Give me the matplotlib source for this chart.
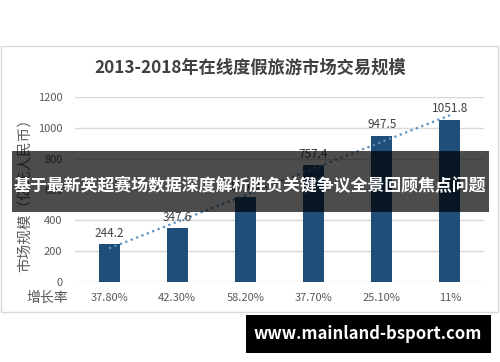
import matplotlib
matplotlib.use('Agg')
import matplotlib.pyplot as plt
import numpy as np
from matplotlib.patches import Rectangle

plt.rcParams['font.family'] = ['Noto Sans CJK SC', 'DejaVu Sans']

years = ['2013', '2014', '2015', '2016', '2017', '2018']
market_size = [244.2, 347.6, 550.0, 757.4, 947.5, 1051.8]
growth = ['37.80%', '42.30%', '58.20%', '37.70%', '25.10%', '11%']
yticks = [0, 200, 400, 600, 800, 1000, 1200]

W, H = 500, 362
fig = plt.figure(figsize=(5, 3.62), dpi=100)
fig.patch.set_facecolor('white')

# outer chart frame
fig.patches.append(Rectangle((1 / W, 1 - 312 / H), 497 / W, 266 / H,
                             transform=fig.transFigure, facecolor='white',
                             edgecolor='#d9d9d9', linewidth=1, zorder=-5))

ax = fig.add_axes([75 / W, 1 - 282 / H, 409 / W, 185 / H])
ax.set_facecolor('none')
x = np.arange(len(years))
ax.bar(x, market_size, width=0.31, color='#1f4e79', zorder=3)

# linear trend line
k, b = np.polyfit(x, market_size, 1)
ax.plot(x, k * x + b, linestyle=(0, (1, 1.6)), color='#5b8fc0', lw=1.6, zorder=4)

for xi, v in zip(x, market_size):
    ax.text(xi, v + 30, f'{v:.1f}', ha='center', va='bottom',
            fontsize=8.5, color='#404040', zorder=5)

ax.set_xlim(-0.5, len(years) - 0.5)
ax.set_ylim(0, 1200)
ax.set_yticks(yticks)
ax.yaxis.grid(True, color='#d9d9d9', lw=1, zorder=0)
ax.tick_params(axis='y', length=0, labelsize=8, labelcolor='#595959', pad=9)
ax.set_xticks([])
for s in ax.spines.values():
    s.set_visible(False)

# growth rate row
for xi, g in zip(x, growth):
    ax.text(xi, -0.085, g, transform=ax.get_xaxis_transform(), ha='center',
            va='center', fontsize=8, color='#595959')
fig.text(47 / W, 1 - 298 / H, '增长率', ha='center', va='center',
         fontsize=10, color='#595959')

fig.text(25 / W, 1 - 192 / H, '市场规模（亿元人民币）', rotation=90,
         ha='center', va='center', fontsize=10.5, color='#595959')

fig.text(250 / W, 1 - 68 / H, '2013-2018年在线度假旅游市场交易规模',
         ha='center', va='center', fontsize=12.4, fontweight='bold',
         color='#404040')

# dark overlay banner
fig.patches.append(Rectangle((12 / W, 1 - 212 / H), 477 / W, 61 / H,
                             transform=fig.transFigure, facecolor='black',
                             alpha=0.7, edgecolor='none', zorder=10))
fig.text(250 / W, 1 - 186 / H, '基于最新英超赛场数据深度解析胜负关键争议全景回顾焦点问题',
         ha='center', va='center', fontsize=12.2, fontweight='bold',
         color='white', zorder=11)

# watermark box
fig.patches.append(Rectangle((246 / W, 1 - 353 / H), 245 / W, 38 / H,
                             transform=fig.transFigure, facecolor='black',
                             edgecolor='none', zorder=10))
fig.text(368 / W, 1 - 334 / H, 'www.mainland-bsport.com', ha='center',
         va='center', fontsize=12, fontweight='bold', color='white',
         zorder=11)

fig.savefig('out.png', dpi=100)
